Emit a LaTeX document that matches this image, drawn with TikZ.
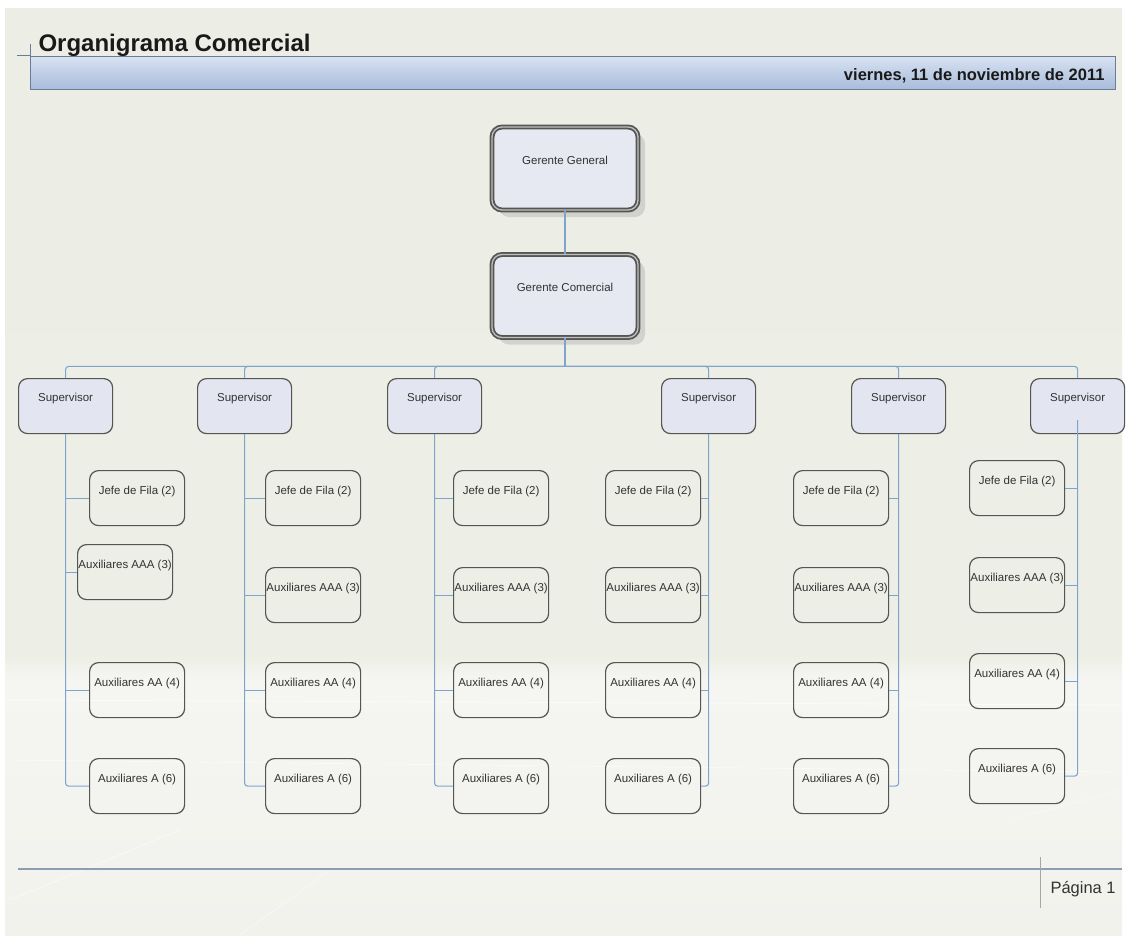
\documentclass[tikz,border=0pt]{standalone}
\usepackage{fontspec}
\setmainfont{Liberation Sans}
\usetikzlibrary{shadows,calc}

\definecolor{bgtop}{HTML}{ECEEE5}
\definecolor{bgmid}{HTML}{EDEFE6}
\definecolor{bglow}{HTML}{F5F6F2}
\definecolor{bgbot}{HTML}{F1F2EC}
\definecolor{bartop}{HTML}{D8E2F1}
\definecolor{barbot}{HTML}{A9BCDB}
\definecolor{baredge}{HTML}{6C7B99}
\definecolor{connblue}{HTML}{7FA4CC}
\definecolor{boxedge}{HTML}{555553}
\definecolor{supfill}{HTML}{E3E5F0}
\definecolor{topfill}{HTML}{E6E8F2}
\definecolor{boxtext}{HTML}{333333}
\definecolor{footline}{HTML}{8E9DB6}

\begin{document}
\begin{tikzpicture}[x=1pt,y=-1pt,
  conn/.style={draw=connblue, line width=1.1pt, rounded corners=3pt},
  topbox/.style={rounded corners=10pt, draw=boxedge, line width=1.8pt,
    double=gray!50, double distance=1.3pt, fill=topfill,
    minimum width=146pt, minimum height=83pt, inner xsep=0pt, inner ysep=6pt,
    text height=31pt, text depth=40pt, text=boxtext,
    font=\fontsize{11.5}{13}\selectfont,
    drop shadow={shadow xshift=7pt, shadow yshift=-7pt, fill=gray!60, opacity=0.45}},
  supbox/.style={rounded corners=9pt, draw=boxedge, line width=1.2pt, fill=supfill,
    minimum width=94pt, minimum height=55pt, inner xsep=0pt, inner ysep=6pt,
    text height=17pt, text depth=26pt, text=boxtext,
    font=\fontsize{11.5}{13}\selectfont},
  childbox/.style={rounded corners=9pt, draw=boxedge, line width=1.2pt,
    minimum width=95pt, minimum height=55pt, inner xsep=0pt, inner ysep=6pt,
    text height=18pt, text depth=25pt, text=boxtext,
    font=\fontsize{11.5}{13}\selectfont}]

\useasboundingbox (0,0) rectangle (1127,940);
\fill[white] (0,0) rectangle (1127,940);

% page background
\shade[top color=bgtop, bottom color=bgmid] (5,8) rectangle (1122,655);
\shade[top color=bgmid, bottom color=bglow] (5,655) rectangle (1122,680);
\shade[top color=bglow, bottom color=bgbot] (5,680) rectangle (1122,935);
\draw[white, opacity=0.6, line width=0.8pt] (5,700) -- (1122,705);
\draw[white, opacity=0.5, line width=0.8pt] (5,760) -- (1122,772);
\draw[white, opacity=0.5, line width=0.8pt] (10,900) -- (180,830);
\draw[white, opacity=0.4, line width=0.8pt] (240,935) -- (330,870);
\draw[white, opacity=0.4, line width=0.8pt] (1010,820) -- (1122,790);

% header
\node[anchor=base west, font=\bfseries\fontsize{24}{28}\selectfont, text=black!90] (title) at (35,51) {Organigrama Comercial};
\shade[top color=bartop, bottom color=barbot] (30,56) rectangle (1115,89);
\draw[baredge, line width=1pt] (30,56) rectangle (1115,89);
\draw[baredge, line width=1pt] (17,55) -- (30,55);
\draw[baredge, line width=1pt] (30,44) -- (30,89);
\node[anchor=base east, font=\bfseries\fontsize{16.5}{20}\selectfont, text=black!90] (date) at (1108,80) {viernes, 11 de noviembre de 2011};

% managers
\node[topbox] (gg) at (565,168.5) {Gerente General};
\node[topbox] (gc) at (565,296) {Gerente Comercial};

% supervisors
\node[supbox, anchor=north west] (s1) at (18,378) {Supervisor};
\node[supbox, anchor=north west] (s2) at (197,378) {Supervisor};
\node[supbox, anchor=north west] (s3) at (387,378) {Supervisor};
\node[supbox, anchor=north west] (s4) at (661,378) {Supervisor};
\node[supbox, anchor=north west] (s5) at (851,378) {Supervisor};
\node[supbox, anchor=north west] (s6) at (1030,378) {Supervisor};

% column 1
\node[childbox, anchor=north west] (j1) at (89,470) {Jefe de Fila (2)};
\node[childbox, anchor=north west] (t1) at (77,544) {Auxiliares AAA (3)};
\node[childbox, anchor=north west] (d1) at (89,662) {Auxiliares AA (4)};
\node[childbox, anchor=north west] (a1) at (89,758) {Auxiliares A (6)};
% column 2
\node[childbox, anchor=north west] (j2) at (265,470) {Jefe de Fila (2)};
\node[childbox, anchor=north west] (t2) at (265,567) {Auxiliares AAA (3)};
\node[childbox, anchor=north west] (d2) at (265,662) {Auxiliares AA (4)};
\node[childbox, anchor=north west] (a2) at (265,758) {Auxiliares A (6)};
% column 3
\node[childbox, anchor=north west] (j3) at (453,470) {Jefe de Fila (2)};
\node[childbox, anchor=north west] (t3) at (453,567) {Auxiliares AAA (3)};
\node[childbox, anchor=north west] (d3) at (453,662) {Auxiliares AA (4)};
\node[childbox, anchor=north west] (a3) at (453,758) {Auxiliares A (6)};
% column 4
\node[childbox, anchor=north west] (j4) at (605,470) {Jefe de Fila (2)};
\node[childbox, anchor=north west] (t4) at (605,567) {Auxiliares AAA (3)};
\node[childbox, anchor=north west] (d4) at (605,662) {Auxiliares AA (4)};
\node[childbox, anchor=north west] (a4) at (605,758) {Auxiliares A (6)};
% column 5
\node[childbox, anchor=north west] (j5) at (793,470) {Jefe de Fila (2)};
\node[childbox, anchor=north west] (t5) at (793,567) {Auxiliares AAA (3)};
\node[childbox, anchor=north west] (d5) at (793,662) {Auxiliares AA (4)};
\node[childbox, anchor=north west] (a5) at (793,758) {Auxiliares A (6)};
% column 6
\node[childbox, anchor=north west] (j6) at (969,460) {Jefe de Fila (2)};
\node[childbox, anchor=north west] (t6) at (969,557) {Auxiliares AAA (3)};
\node[childbox, anchor=north west] (d6) at (969,653) {Auxiliares AA (4)};
\node[childbox, anchor=north west] (a6) at (969,748) {Auxiliares A (6)};

% connectors: managers and bus
\draw[conn] (gg.south) -- (gc.south |- gc.north);
\draw[conn] (gc.south) -- ++(0,28) coordinate (bus);
\foreach \s in {s1,s2,s3,s4,s5,s6}
  \draw[conn] (bus) -| (\s.north);

% trunks with children on the right
\foreach \c in {1,2,3} {
  \draw[conn] (s\c.south) |- (a\c.west);
  \foreach \k in {j,t,d}
    \draw[conn] (\k\c.west -| s\c.south) -- (\k\c.west);
}
% trunks with children on the left
\foreach \c in {4,5} {
  \draw[conn] (s\c.south) |- (a\c.east);
  \foreach \k in {j,t,d}
    \draw[conn] (\k\c.east -| s\c.south) -- (\k\c.east);
}
\draw[conn] ([yshift=-14pt]s6.center) |- (a6.east);
\foreach \k in {j,t,d}
  \draw[conn] (\k6.east -| s6.south) -- (\k6.east);

% footer
\draw[footline, line width=1.4pt] (18,869) -- (1122,869);
\draw[gray!70, line width=1pt] (1040,857) -- (1040,908);
\node[anchor=base west, font=\fontsize{16.5}{20}\selectfont, text=black!80] (pag) at (1047,893) {Página 1};
\end{tikzpicture}
\end{document}
